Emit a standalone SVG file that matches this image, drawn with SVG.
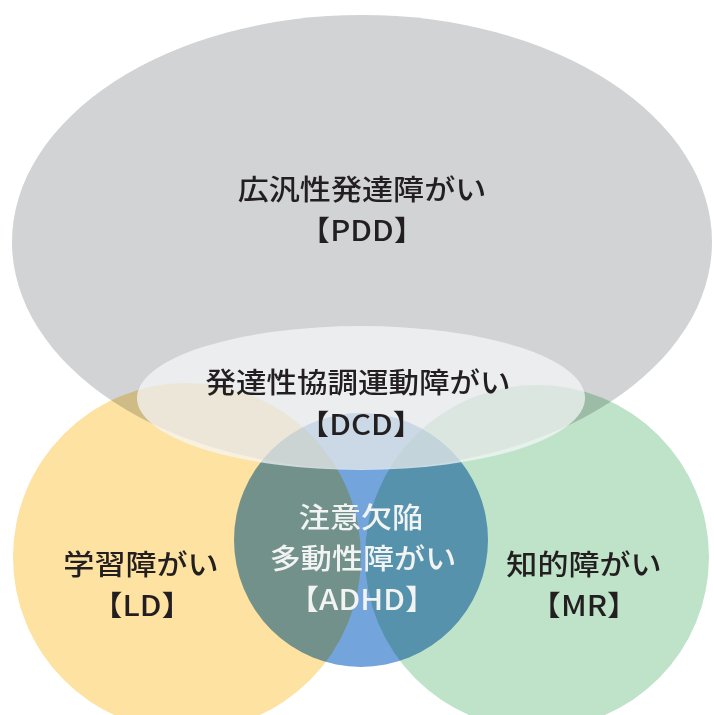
<svg xmlns="http://www.w3.org/2000/svg" width="714" height="715" viewBox="0 0 714 715">
<style>
.mul{mix-blend-mode:multiply}
.t{font-family:"Noto Sans CJK JP","Noto Sans",sans-serif;font-size:28px;font-weight:500;text-anchor:middle;fill:#231f20}
.w{fill:#f2f3f3}
</style>
<rect width="714" height="715" fill="#ffffff"/>
<g id="pdd">
<ellipse cx="362" cy="242" rx="350" ry="227" fill="#d1d3d5"/>
<text class="t" transform="translate(362 200) scale(1.11 1)">広汎性発達障がい</text>
<text class="t" transform="translate(362 241) scale(1.11 1)">【PDD】</text>
</g>
<g id="ld">
<circle class="mul" cx="187" cy="557" r="174" fill="#fde2a1"/>
<text class="t" transform="translate(141 575) scale(1.11 1)">学習障がい</text>
<text class="t" transform="translate(142 616) scale(1.11 1)">【LD】</text>
</g>
<g id="mr">
<circle class="mul" cx="537" cy="557" r="172" fill="#bee3c8"/>
<text class="t" transform="translate(584 575) scale(1.11 1)">知的障がい</text>
<text class="t" transform="translate(584 616) scale(1.11 1)">【MR】</text>
</g>
<g id="adhd">
<circle class="mul" cx="361" cy="540" r="127" fill="#74a4dc"/>
<text class="t w" transform="translate(361 528) scale(1.11 1)">注意欠陥</text>
<text class="t w" transform="translate(363 569) scale(1.11 1)">多動性障がい</text>
<text class="t w" transform="translate(362 610) scale(1.11 1)">【ADHD】</text>
</g>
<g id="dcd">
<ellipse cx="361" cy="398" rx="224" ry="72" fill="#f5f6f8" fill-opacity="0.72"/>
<text class="t" transform="translate(358 393) scale(1.09 1)">発達性協調運動障がい</text>
<text class="t" transform="translate(361 435) scale(1.11 1)">【DCD】</text>
</g>
</svg>
